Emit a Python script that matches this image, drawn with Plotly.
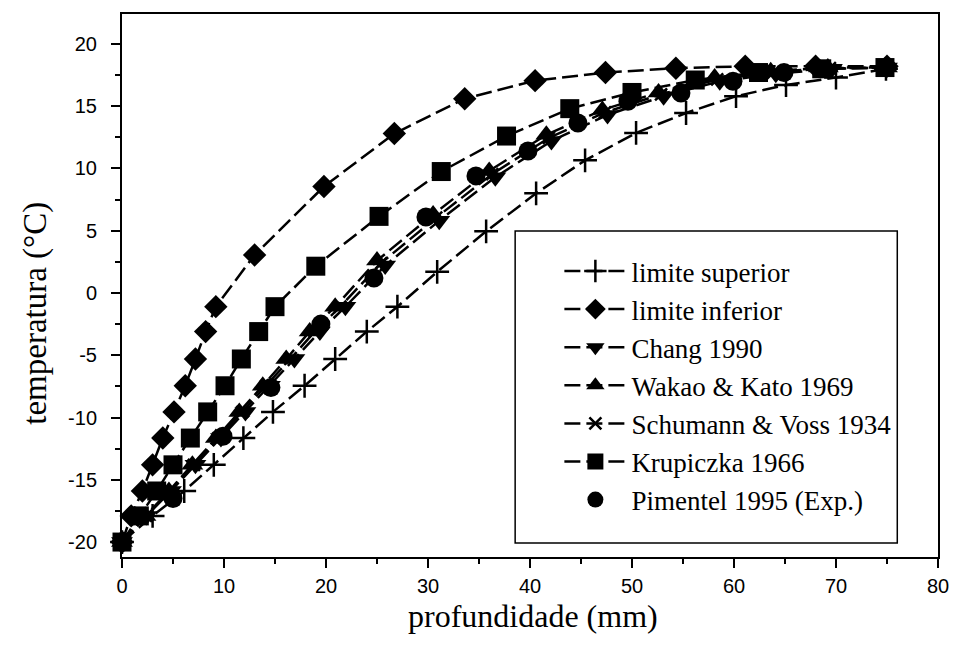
import plotly.graph_objects as go

# Temperature profiles versus depth
t_freeze = [-20, -17.9, -15.9, -13.8, -11.65, -9.55, -7.45, -5.3, -3.1, -1.1]

sup_x = [0, 3.0, 6.1, 9.0, 11.9, 14.8, 17.9, 20.9, 24.0, 27.0,
         30.9, 35.7, 40.6, 45.4, 50.4, 55.3, 60.2, 65.1, 70.0, 74.9]
sup_y = t_freeze + [1.7, 4.95, 8.0, 10.65, 12.85, 14.45, 15.8, 16.7, 17.3, 18.0]

inf_x = [0, 0.9, 2.0, 3.0, 4.0, 5.1, 6.2, 7.2, 8.2, 9.2,
         13.0, 19.8, 26.7, 33.6, 40.5, 47.4, 54.3, 61.1, 68.0, 75.0]
inf_y = t_freeze + [3.05, 8.55, 12.8, 15.6, 17.05, 17.7, 18.05, 18.2, 18.2, 18.2]

chang_x = [0, 2.4, 4.8, 7.2, 9.7, 12.1, 14.5, 16.9, 19.4, 21.9,
           25.8, 31.1, 36.6, 42.1, 47.6, 53.1, 58.6, 64.1, 69.6, 75.0]
chang_y = t_freeze + [2.2, 5.8, 9.3, 12.2, 14.3, 15.8, 17.0, 17.6, 18.0, 18.1]

wakao_x = [0, 2.3, 4.6, 6.9, 9.2, 11.5, 13.8, 16.1, 18.4, 20.9,
           25.0, 30.5, 36.0, 41.6, 47.1, 52.6, 58.1, 63.6, 69.2, 75.0]
wakao_y = t_freeze + [2.6, 6.3, 9.8, 12.7, 14.7, 16.1, 17.3, 17.8, 18.1, 18.1]

schu_x = [0, 2.35, 4.7, 7.05, 9.45, 11.8, 14.15, 16.5, 18.9, 21.4,
          25.4, 30.8, 36.3, 41.85, 47.35, 52.85, 58.35, 63.85, 69.4, 75.0]
schu_y = t_freeze + [2.4, 6.05, 9.55, 12.45, 14.5, 15.95, 17.15, 17.7, 18.05, 18.1]

krup_x = [0, 1.7, 3.4, 5.0, 6.7, 8.4, 10.1, 11.7, 13.4, 15.0,
          19.0, 25.2, 31.3, 37.7, 43.9, 50.0, 56.2, 62.4, 68.6, 74.8]
krup_y = t_freeze + [2.15, 6.15, 9.75, 12.6, 14.8, 16.1, 17.1, 17.7, 18.0, 18.1]

pim_x = [0, 5.0, 9.9, 14.6, 19.5, 24.7, 29.8, 34.7, 39.8, 44.7, 49.6, 54.8, 59.9, 64.9]
pim_y = [-20, -16.5, -11.5, -7.6, -2.5, 1.2, 6.1, 9.4, 11.4, 13.65, 15.4, 16.05, 17.0, 17.7]

x_ticks = [0, 10, 20, 30, 40, 50, 60, 70, 80]
y_ticks = [-20, -15, -10, -5, 0, 5, 10, 15, 20]

BLACK = "#000000"
DASH = "16px,6px"
SERIF = "Liberation Serif, Times New Roman, serif"
SANS = "Liberation Sans, Arial, sans-serif"

fig = go.Figure()


def add_series(name, xs, ys, symbol, size, rank, line=True, thin=False):
    marker = dict(symbol=symbol, size=size, color=BLACK)
    if thin:
        marker["line"] = dict(color=BLACK, width=2.5)
    fig.add_trace(go.Scatter(
        x=xs, y=ys, name=name, legendrank=rank,
        mode="lines+markers" if line else "markers",
        line=dict(color=BLACK, width=2.5, dash=DASH),
        marker=marker, cliponaxis=False,
    ))


# Schumann & Voss drawn first so the triangles sit on top of it
add_series("Schumann &amp; Voss 1934", schu_x, schu_y, "x-thin", 12, 5, thin=True)
add_series("limite superior", sup_x, sup_y, "cross-thin", 17, 1, thin=True)
add_series("limite inferior", inf_x, inf_y, "diamond", 18, 2)
add_series("Krupiczka 1966", krup_x, krup_y, "square", 19, 6)
add_series("Chang 1990", chang_x, chang_y, "triangle-down", 19, 3)
add_series("Wakao &amp; Kato 1969", wakao_x, wakao_y, "triangle-up", 19, 4)
add_series("Pimentel 1995 (Exp.)", pim_x, pim_y, "circle", 19, 7, line=False)

axis_common = dict(
    showline=True, linecolor=BLACK, linewidth=2, mirror=True,
    showgrid=False, zeroline=False,
    ticks="outside", ticklen=9, tickwidth=2, tickcolor=BLACK,
    tickfont=dict(family=SANS, size=20, color=BLACK),
)

fig.update_xaxes(
    range=[0, 80], tickvals=x_ticks, ticktext=[str(v) for v in x_ticks],
    minor=dict(ticks="outside", ticklen=5, tickwidth=2, dtick=5, tick0=0, tickcolor=BLACK),
    ticklabelstandoff=1,
    **axis_common,
)
fig.update_yaxes(
    range=[-21.2, 22.4], tickvals=y_ticks, ticktext=[str(v) for v in y_ticks],
    minor=dict(ticks="outside", ticklen=5, tickwidth=2, dtick=2.5, tick0=0, tickcolor=BLACK),
    ticklabelstandoff=10,
    **axis_common,
)

fig.update_layout(
    width=961, height=647,
    margin=dict(l=122, r=17, t=14, b=90),
    paper_bgcolor="white", plot_bgcolor="white",
    showlegend=True,
    legend=dict(
        x=0.536, y=0.571, xanchor="left", yanchor="top",
        bgcolor="rgba(0,0,0,0)", borderwidth=0,
        font=dict(family=SERIF, size=27, color=BLACK),
        itemwidth=62, tracegroupgap=0,
    ),
    shapes=[dict(
        type="rect", xref="paper", yref="paper",
        x0=0.4818, x1=0.9501, y0=0.0258, y1=0.6004,
        line=dict(color=BLACK, width=1.5), fillcolor="rgba(0,0,0,0)",
    )],
    annotations=[
        dict(text="profundidade (mm)", xref="paper", yref="paper",
             x=0.5036, y=-0.109, xanchor="center", yanchor="middle",
             showarrow=False, font=dict(family=SERIF, size=32, color=BLACK)),
        dict(text="temperatura (°C)", xref="paper", yref="paper",
             x=-0.106, y=0.449, xanchor="center", yanchor="middle", textangle=-90,
             showarrow=False, font=dict(family=SERIF, size=33, color=BLACK)),
    ],
)

fig.write_html("out.html")
